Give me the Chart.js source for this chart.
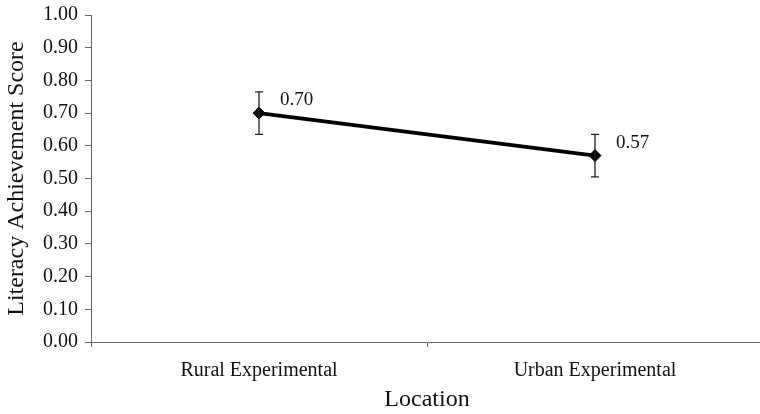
<!DOCTYPE html>
<html>
<head>
<meta charset="utf-8">
<script src="https://cdn.jsdelivr.net/npm/chart.js@4"></script>
<style>
html,body{margin:0;padding:0;background:#fff;overflow:hidden;}
#wrap{width:760px;height:414px;position:relative;overflow:hidden;}
</style>
</head>
<body>
<div id="wrap"><canvas id="c" width="770" height="414"></canvas></div>
<script>
const categories = ["Rural Experimental", "Urban Experimental"];
const scores = [0.70, 0.57];
const errors = [0.065, 0.065];
const valueLabels = ["0.70", "0.57"];
const yTicks = [0, 0.1, 0.2, 0.3, 0.4, 0.5, 0.6, 0.7, 0.8, 0.9, 1.0];

const FONT = "'Liberation Serif', 'Times New Roman', serif";

const errorBarPlugin = {
  id: 'errorBars',
  afterDatasetsDraw(chart) {
    const ctx = chart.ctx;
    const meta = chart.getDatasetMeta(0);
    const ys = chart.scales.y;
    ctx.save();
    ctx.strokeStyle = '#222';
    ctx.lineWidth = 1.3;
    meta.data.forEach((pt, i) => {
      const x = pt.x;
      const yTop = ys.getPixelForValue(scores[i] + errors[i]);
      const yBot = ys.getPixelForValue(scores[i] - errors[i]);
      ctx.beginPath();
      ctx.moveTo(x, yTop); ctx.lineTo(x, yBot);
      ctx.moveTo(x - 4, yTop); ctx.lineTo(x + 4, yTop);
      ctx.moveTo(x - 4, yBot); ctx.lineTo(x + 4, yBot);
      ctx.stroke();
    });
    ctx.fillStyle = '#111';
    ctx.font = "19px " + FONT;
    ctx.textAlign = 'left';
    ctx.textBaseline = 'middle';
    meta.data.forEach((pt, i) => {
      ctx.fillText(valueLabels[i], pt.x + 21, pt.y - 13);
    });
    ctx.restore();
  }
};

new Chart(document.getElementById('c'), {
  type: 'line',
  data: {
    labels: categories,
    datasets: [{
      data: scores,
      borderColor: '#000',
      backgroundColor: '#000',
      borderWidth: 3.8,
      pointStyle: 'rectRot',
      pointRadius: 6,
      pointHoverRadius: 6,
      pointBackgroundColor: '#000',
      pointBorderColor: '#000',
      pointBorderWidth: 1,
      tension: 0
    }]
  },
  options: {
    responsive: false,
    animation: false,
    devicePixelRatio: 1,
    layout: { padding: { top: 15, right: 1, bottom: 0, left: 0 } },
    plugins: { legend: { display: false }, tooltip: { enabled: false } },
    scales: {
      x: {
        type: 'category',
        offset: true,
        grid: { offset: true, drawOnChartArea: false, drawTicks: true, tickLength: 5, color: '#666' },
        border: { color: '#666', width: 1 },
        ticks: { color: '#111', font: { family: FONT, size: 20 }, padding: 12, maxRotation: 0 },
        title: { display: true, text: 'Location', color: '#111', font: { family: FONT, size: 24 }, padding: { top: 5, bottom: 0 } },
        afterFit(scale) { scale.height = 72; scale.paddingLeft = 0; scale.paddingRight = 0; }
      },
      y: {
        min: 0, max: 1,
        afterBuildTicks(scale) { scale.ticks = yTicks.map(v => ({ value: v })); },
        grid: { drawOnChartArea: false, drawTicks: true, tickLength: 6, color: '#666' },
        border: { color: '#666', width: 1 },
        ticks: { color: '#111', font: { family: FONT, size: 20 }, padding: 7, callback: v => Number(v).toFixed(2) },
        title: { display: true, text: 'Literacy Achievement Score', color: '#111', font: { family: FONT, size: 24 }, padding: { top: 2, bottom: 0 } },
        afterFit(scale) { scale.width = 91; scale.paddingTop = 0; scale.paddingBottom = 0; }
      }
    }
  },
  plugins: [errorBarPlugin]
});
</script>
</body>
</html>
